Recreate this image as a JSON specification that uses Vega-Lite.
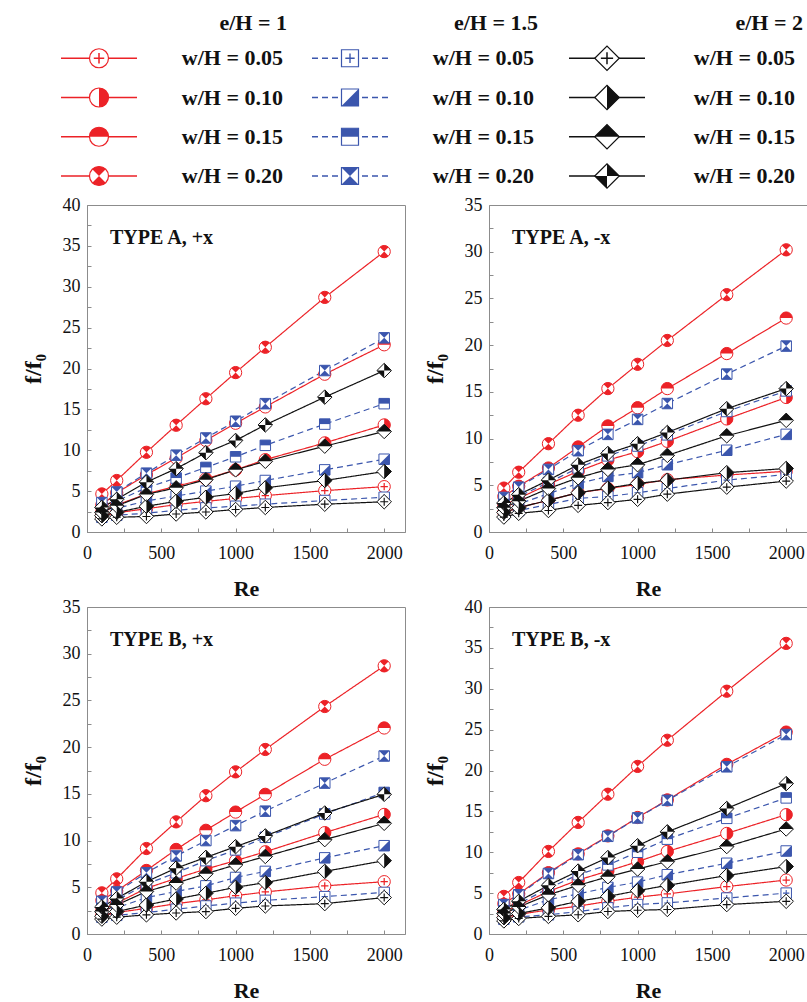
{
"$schema": "https://vega.github.io/schema/vega-lite/v6.json",
"background": "white",
"padding": {"left": 20, "top": 0, "right": 0, "bottom": 0},
"columns": 2,
"spacing": {"row": 75, "column": 84},
"bounds": "flush",
"datasets": {
"leg": [
{"e":1,"w":0.05,"label":"w/H = 0.05","group":"e/H = 1"},{"e":1,"w":0.1,"label":"w/H = 0.10","group":"e/H = 1"},{"e":1,"w":0.15,"label":"w/H = 0.15","group":"e/H = 1"},{"e":1,"w":0.2,"label":"w/H = 0.20","group":"e/H = 1"},
{"e":1.5,"w":0.05,"label":"w/H = 0.05","group":"e/H = 1.5"},{"e":1.5,"w":0.1,"label":"w/H = 0.10","group":"e/H = 1.5"},{"e":1.5,"w":0.15,"label":"w/H = 0.15","group":"e/H = 1.5"},{"e":1.5,"w":0.2,"label":"w/H = 0.20","group":"e/H = 1.5"},
{"e":2,"w":0.05,"label":"w/H = 0.05","group":"e/H = 2"},{"e":2,"w":0.1,"label":"w/H = 0.10","group":"e/H = 2"},{"e":2,"w":0.15,"label":"w/H = 0.15","group":"e/H = 2"},{"e":2,"w":0.2,"label":"w/H = 0.20","group":"e/H = 2"}
],
"pts": [
{"p":"TYPE A, +x","e":1,"w":0.05,"Re":100,"f":2.0},{"p":"TYPE A, +x","e":1,"w":0.05,"Re":200,"f":2.35},{"p":"TYPE A, +x","e":1,"w":0.05,"Re":400,"f":2.85},{"p":"TYPE A, +x","e":1,"w":0.05,"Re":600,"f":3.35},{"p":"TYPE A, +x","e":1,"w":0.05,"Re":800,"f":3.75},{"p":"TYPE A, +x","e":1,"w":0.05,"Re":1000,"f":4.1},{"p":"TYPE A, +x","e":1,"w":0.05,"Re":1200,"f":4.45},{"p":"TYPE A, +x","e":1,"w":0.05,"Re":1600,"f":5.06},{"p":"TYPE A, +x","e":1,"w":0.05,"Re":2000,"f":5.55},
{"p":"TYPE A, +x","e":1,"w":0.1,"Re":100,"f":2.5},{"p":"TYPE A, +x","e":1,"w":0.1,"Re":200,"f":3.3},{"p":"TYPE A, +x","e":1,"w":0.1,"Re":400,"f":4.65},{"p":"TYPE A, +x","e":1,"w":0.1,"Re":600,"f":5.6},{"p":"TYPE A, +x","e":1,"w":0.1,"Re":800,"f":6.5},{"p":"TYPE A, +x","e":1,"w":0.1,"Re":1000,"f":7.6},{"p":"TYPE A, +x","e":1,"w":0.1,"Re":1200,"f":8.85},{"p":"TYPE A, +x","e":1,"w":0.1,"Re":1600,"f":10.9},{"p":"TYPE A, +x","e":1,"w":0.1,"Re":2000,"f":13.1},
{"p":"TYPE A, +x","e":1,"w":0.15,"Re":100,"f":3.3},{"p":"TYPE A, +x","e":1,"w":0.15,"Re":200,"f":4.8},{"p":"TYPE A, +x","e":1,"w":0.15,"Re":400,"f":7.0},{"p":"TYPE A, +x","e":1,"w":0.15,"Re":600,"f":9.05},{"p":"TYPE A, +x","e":1,"w":0.15,"Re":800,"f":11.2},{"p":"TYPE A, +x","e":1,"w":0.15,"Re":1000,"f":13.3},{"p":"TYPE A, +x","e":1,"w":0.15,"Re":1200,"f":15.3},{"p":"TYPE A, +x","e":1,"w":0.15,"Re":1600,"f":19.3},{"p":"TYPE A, +x","e":1,"w":0.15,"Re":2000,"f":22.9},
{"p":"TYPE A, +x","e":1,"w":0.2,"Re":100,"f":4.65},{"p":"TYPE A, +x","e":1,"w":0.2,"Re":200,"f":6.3},{"p":"TYPE A, +x","e":1,"w":0.2,"Re":400,"f":9.75},{"p":"TYPE A, +x","e":1,"w":0.2,"Re":600,"f":13.06},{"p":"TYPE A, +x","e":1,"w":0.2,"Re":800,"f":16.3},{"p":"TYPE A, +x","e":1,"w":0.2,"Re":1000,"f":19.5},{"p":"TYPE A, +x","e":1,"w":0.2,"Re":1200,"f":22.6},{"p":"TYPE A, +x","e":1,"w":0.2,"Re":1600,"f":28.7},{"p":"TYPE A, +x","e":1,"w":0.2,"Re":2000,"f":34.3},
{"p":"TYPE A, +x","e":1.5,"w":0.05,"Re":100,"f":1.8},{"p":"TYPE A, +x","e":1.5,"w":0.05,"Re":200,"f":2.05},{"p":"TYPE A, +x","e":1.5,"w":0.05,"Re":400,"f":2.3},{"p":"TYPE A, +x","e":1.5,"w":0.05,"Re":600,"f":2.65},{"p":"TYPE A, +x","e":1.5,"w":0.05,"Re":800,"f":2.95},{"p":"TYPE A, +x","e":1.5,"w":0.05,"Re":1000,"f":3.15},{"p":"TYPE A, +x","e":1.5,"w":0.05,"Re":1200,"f":3.4},{"p":"TYPE A, +x","e":1.5,"w":0.05,"Re":1600,"f":3.85},{"p":"TYPE A, +x","e":1.5,"w":0.05,"Re":2000,"f":4.25},
{"p":"TYPE A, +x","e":1.5,"w":0.1,"Re":100,"f":2.2},{"p":"TYPE A, +x","e":1.5,"w":0.1,"Re":200,"f":2.9},{"p":"TYPE A, +x","e":1.5,"w":0.1,"Re":400,"f":3.8},{"p":"TYPE A, +x","e":1.5,"w":0.1,"Re":600,"f":4.4},{"p":"TYPE A, +x","e":1.5,"w":0.1,"Re":800,"f":5.0},{"p":"TYPE A, +x","e":1.5,"w":0.1,"Re":1000,"f":5.6},{"p":"TYPE A, +x","e":1.5,"w":0.1,"Re":1200,"f":6.3},{"p":"TYPE A, +x","e":1.5,"w":0.1,"Re":1600,"f":7.6},{"p":"TYPE A, +x","e":1.5,"w":0.1,"Re":2000,"f":8.9},
{"p":"TYPE A, +x","e":1.5,"w":0.15,"Re":100,"f":2.8},{"p":"TYPE A, +x","e":1.5,"w":0.15,"Re":200,"f":3.8},{"p":"TYPE A, +x","e":1.5,"w":0.15,"Re":400,"f":5.4},{"p":"TYPE A, +x","e":1.5,"w":0.15,"Re":600,"f":6.6},{"p":"TYPE A, +x","e":1.5,"w":0.15,"Re":800,"f":7.9},{"p":"TYPE A, +x","e":1.5,"w":0.15,"Re":1000,"f":9.2},{"p":"TYPE A, +x","e":1.5,"w":0.15,"Re":1200,"f":10.6},{"p":"TYPE A, +x","e":1.5,"w":0.15,"Re":1600,"f":13.2},{"p":"TYPE A, +x","e":1.5,"w":0.15,"Re":2000,"f":15.7},
{"p":"TYPE A, +x","e":1.5,"w":0.2,"Re":100,"f":3.6},{"p":"TYPE A, +x","e":1.5,"w":0.2,"Re":200,"f":4.9},{"p":"TYPE A, +x","e":1.5,"w":0.2,"Re":400,"f":7.2},{"p":"TYPE A, +x","e":1.5,"w":0.2,"Re":600,"f":9.4},{"p":"TYPE A, +x","e":1.5,"w":0.2,"Re":800,"f":11.5},{"p":"TYPE A, +x","e":1.5,"w":0.2,"Re":1000,"f":13.55},{"p":"TYPE A, +x","e":1.5,"w":0.2,"Re":1200,"f":15.7},{"p":"TYPE A, +x","e":1.5,"w":0.2,"Re":1600,"f":19.75},{"p":"TYPE A, +x","e":1.5,"w":0.2,"Re":2000,"f":23.75},
{"p":"TYPE A, +x","e":2,"w":0.05,"Re":100,"f":1.6},{"p":"TYPE A, +x","e":2,"w":0.05,"Re":200,"f":1.8},{"p":"TYPE A, +x","e":2,"w":0.05,"Re":400,"f":1.9},{"p":"TYPE A, +x","e":2,"w":0.05,"Re":600,"f":2.2},{"p":"TYPE A, +x","e":2,"w":0.05,"Re":800,"f":2.45},{"p":"TYPE A, +x","e":2,"w":0.05,"Re":1000,"f":2.75},{"p":"TYPE A, +x","e":2,"w":0.05,"Re":1200,"f":3.0},{"p":"TYPE A, +x","e":2,"w":0.05,"Re":1600,"f":3.4},{"p":"TYPE A, +x","e":2,"w":0.05,"Re":2000,"f":3.7},
{"p":"TYPE A, +x","e":2,"w":0.1,"Re":100,"f":2.0},{"p":"TYPE A, +x","e":2,"w":0.1,"Re":200,"f":2.4},{"p":"TYPE A, +x","e":2,"w":0.1,"Re":400,"f":3.15},{"p":"TYPE A, +x","e":2,"w":0.1,"Re":600,"f":3.75},{"p":"TYPE A, +x","e":2,"w":0.1,"Re":800,"f":4.25},{"p":"TYPE A, +x","e":2,"w":0.1,"Re":1000,"f":4.7},{"p":"TYPE A, +x","e":2,"w":0.1,"Re":1200,"f":5.4},{"p":"TYPE A, +x","e":2,"w":0.1,"Re":1600,"f":6.3},{"p":"TYPE A, +x","e":2,"w":0.1,"Re":2000,"f":7.4},
{"p":"TYPE A, +x","e":2,"w":0.15,"Re":100,"f":2.4},{"p":"TYPE A, +x","e":2,"w":0.15,"Re":200,"f":3.2},{"p":"TYPE A, +x","e":2,"w":0.15,"Re":400,"f":4.6},{"p":"TYPE A, +x","e":2,"w":0.15,"Re":600,"f":5.4},{"p":"TYPE A, +x","e":2,"w":0.15,"Re":800,"f":6.4},{"p":"TYPE A, +x","e":2,"w":0.15,"Re":1000,"f":7.6},{"p":"TYPE A, +x","e":2,"w":0.15,"Re":1200,"f":8.65},{"p":"TYPE A, +x","e":2,"w":0.15,"Re":1600,"f":10.5},{"p":"TYPE A, +x","e":2,"w":0.15,"Re":2000,"f":12.3},
{"p":"TYPE A, +x","e":2,"w":0.2,"Re":100,"f":3.0},{"p":"TYPE A, +x","e":2,"w":0.2,"Re":200,"f":4.0},{"p":"TYPE A, +x","e":2,"w":0.2,"Re":400,"f":6.1},{"p":"TYPE A, +x","e":2,"w":0.2,"Re":600,"f":7.75},{"p":"TYPE A, +x","e":2,"w":0.2,"Re":800,"f":9.7},{"p":"TYPE A, +x","e":2,"w":0.2,"Re":1000,"f":11.2},{"p":"TYPE A, +x","e":2,"w":0.2,"Re":1200,"f":13.1},{"p":"TYPE A, +x","e":2,"w":0.2,"Re":1600,"f":16.5},{"p":"TYPE A, +x","e":2,"w":0.2,"Re":2000,"f":19.75},

{"p":"TYPE A, -x","e":1,"w":0.05,"Re":100,"f":2.1},{"p":"TYPE A, -x","e":1,"w":0.05,"Re":200,"f":2.6},{"p":"TYPE A, -x","e":1,"w":0.05,"Re":400,"f":3.4},{"p":"TYPE A, -x","e":1,"w":0.05,"Re":600,"f":4.2},{"p":"TYPE A, -x","e":1,"w":0.05,"Re":800,"f":4.65},{"p":"TYPE A, -x","e":1,"w":0.05,"Re":1000,"f":5.1},{"p":"TYPE A, -x","e":1,"w":0.05,"Re":1200,"f":5.6},{"p":"TYPE A, -x","e":1,"w":0.05,"Re":1600,"f":6.1},{"p":"TYPE A, -x","e":1,"w":0.05,"Re":2000,"f":6.5},
{"p":"TYPE A, -x","e":1,"w":0.1,"Re":100,"f":2.9},{"p":"TYPE A, -x","e":1,"w":0.1,"Re":200,"f":3.6},{"p":"TYPE A, -x","e":1,"w":0.1,"Re":400,"f":5.1},{"p":"TYPE A, -x","e":1,"w":0.1,"Re":600,"f":6.5},{"p":"TYPE A, -x","e":1,"w":0.1,"Re":800,"f":7.7},{"p":"TYPE A, -x","e":1,"w":0.1,"Re":1000,"f":8.6},{"p":"TYPE A, -x","e":1,"w":0.1,"Re":1200,"f":9.7},{"p":"TYPE A, -x","e":1,"w":0.1,"Re":1600,"f":12.1},{"p":"TYPE A, -x","e":1,"w":0.1,"Re":2000,"f":14.4},
{"p":"TYPE A, -x","e":1,"w":0.15,"Re":100,"f":3.8},{"p":"TYPE A, -x","e":1,"w":0.15,"Re":200,"f":4.9},{"p":"TYPE A, -x","e":1,"w":0.15,"Re":400,"f":6.85},{"p":"TYPE A, -x","e":1,"w":0.15,"Re":600,"f":9.1},{"p":"TYPE A, -x","e":1,"w":0.15,"Re":800,"f":11.35},{"p":"TYPE A, -x","e":1,"w":0.15,"Re":1000,"f":13.3},{"p":"TYPE A, -x","e":1,"w":0.15,"Re":1200,"f":15.35},{"p":"TYPE A, -x","e":1,"w":0.15,"Re":1600,"f":19.1},{"p":"TYPE A, -x","e":1,"w":0.15,"Re":2000,"f":22.9},
{"p":"TYPE A, -x","e":1,"w":0.2,"Re":100,"f":4.7},{"p":"TYPE A, -x","e":1,"w":0.2,"Re":200,"f":6.4},{"p":"TYPE A, -x","e":1,"w":0.2,"Re":400,"f":9.45},{"p":"TYPE A, -x","e":1,"w":0.2,"Re":600,"f":12.5},{"p":"TYPE A, -x","e":1,"w":0.2,"Re":800,"f":15.35},{"p":"TYPE A, -x","e":1,"w":0.2,"Re":1000,"f":17.95},{"p":"TYPE A, -x","e":1,"w":0.2,"Re":1200,"f":20.5},{"p":"TYPE A, -x","e":1,"w":0.2,"Re":1600,"f":25.4},{"p":"TYPE A, -x","e":1,"w":0.2,"Re":2000,"f":30.2},
{"p":"TYPE A, -x","e":1.5,"w":0.05,"Re":100,"f":1.9},{"p":"TYPE A, -x","e":1.5,"w":0.05,"Re":200,"f":2.3},{"p":"TYPE A, -x","e":1.5,"w":0.05,"Re":400,"f":2.95},{"p":"TYPE A, -x","e":1.5,"w":0.05,"Re":600,"f":3.6},{"p":"TYPE A, -x","e":1.5,"w":0.05,"Re":800,"f":3.8},{"p":"TYPE A, -x","e":1.5,"w":0.05,"Re":1000,"f":4.2},{"p":"TYPE A, -x","e":1.5,"w":0.05,"Re":1200,"f":4.65},{"p":"TYPE A, -x","e":1.5,"w":0.05,"Re":1600,"f":5.55},{"p":"TYPE A, -x","e":1.5,"w":0.05,"Re":2000,"f":6.15},
{"p":"TYPE A, -x","e":1.5,"w":0.1,"Re":100,"f":2.4},{"p":"TYPE A, -x","e":1.5,"w":0.1,"Re":200,"f":3.0},{"p":"TYPE A, -x","e":1.5,"w":0.1,"Re":400,"f":4.1},{"p":"TYPE A, -x","e":1.5,"w":0.1,"Re":600,"f":5.2},{"p":"TYPE A, -x","e":1.5,"w":0.1,"Re":800,"f":5.95},{"p":"TYPE A, -x","e":1.5,"w":0.1,"Re":1000,"f":6.35},{"p":"TYPE A, -x","e":1.5,"w":0.1,"Re":1200,"f":7.2},{"p":"TYPE A, -x","e":1.5,"w":0.1,"Re":1600,"f":8.75},{"p":"TYPE A, -x","e":1.5,"w":0.1,"Re":2000,"f":10.45},
{"p":"TYPE A, -x","e":1.5,"w":0.15,"Re":100,"f":3.0},{"p":"TYPE A, -x","e":1.5,"w":0.15,"Re":200,"f":3.8},{"p":"TYPE A, -x","e":1.5,"w":0.15,"Re":400,"f":5.3},{"p":"TYPE A, -x","e":1.5,"w":0.15,"Re":600,"f":6.85},{"p":"TYPE A, -x","e":1.5,"w":0.15,"Re":800,"f":8.15},{"p":"TYPE A, -x","e":1.5,"w":0.15,"Re":1000,"f":9.2},{"p":"TYPE A, -x","e":1.5,"w":0.15,"Re":1200,"f":10.4},{"p":"TYPE A, -x","e":1.5,"w":0.15,"Re":1600,"f":12.9},{"p":"TYPE A, -x","e":1.5,"w":0.15,"Re":2000,"f":15.1},
{"p":"TYPE A, -x","e":1.5,"w":0.2,"Re":100,"f":3.7},{"p":"TYPE A, -x","e":1.5,"w":0.2,"Re":200,"f":4.8},{"p":"TYPE A, -x","e":1.5,"w":0.2,"Re":400,"f":6.7},{"p":"TYPE A, -x","e":1.5,"w":0.2,"Re":600,"f":8.7},{"p":"TYPE A, -x","e":1.5,"w":0.2,"Re":800,"f":10.45},{"p":"TYPE A, -x","e":1.5,"w":0.2,"Re":1000,"f":12.05},{"p":"TYPE A, -x","e":1.5,"w":0.2,"Re":1200,"f":13.75},{"p":"TYPE A, -x","e":1.5,"w":0.2,"Re":1600,"f":16.9},{"p":"TYPE A, -x","e":1.5,"w":0.2,"Re":2000,"f":19.9},
{"p":"TYPE A, -x","e":2,"w":0.05,"Re":100,"f":1.6},{"p":"TYPE A, -x","e":2,"w":0.05,"Re":200,"f":2.0},{"p":"TYPE A, -x","e":2,"w":0.05,"Re":400,"f":2.3},{"p":"TYPE A, -x","e":2,"w":0.05,"Re":600,"f":2.85},{"p":"TYPE A, -x","e":2,"w":0.05,"Re":800,"f":3.15},{"p":"TYPE A, -x","e":2,"w":0.05,"Re":1000,"f":3.5},{"p":"TYPE A, -x","e":2,"w":0.05,"Re":1200,"f":4.05},{"p":"TYPE A, -x","e":2,"w":0.05,"Re":1600,"f":4.8},{"p":"TYPE A, -x","e":2,"w":0.05,"Re":2000,"f":5.45},
{"p":"TYPE A, -x","e":2,"w":0.1,"Re":100,"f":2.1},{"p":"TYPE A, -x","e":2,"w":0.1,"Re":200,"f":2.6},{"p":"TYPE A, -x","e":2,"w":0.1,"Re":400,"f":3.4},{"p":"TYPE A, -x","e":2,"w":0.1,"Re":600,"f":4.2},{"p":"TYPE A, -x","e":2,"w":0.1,"Re":800,"f":4.7},{"p":"TYPE A, -x","e":2,"w":0.1,"Re":1000,"f":5.2},{"p":"TYPE A, -x","e":2,"w":0.1,"Re":1200,"f":5.55},{"p":"TYPE A, -x","e":2,"w":0.1,"Re":1600,"f":6.35},{"p":"TYPE A, -x","e":2,"w":0.1,"Re":2000,"f":6.8},
{"p":"TYPE A, -x","e":2,"w":0.15,"Re":100,"f":2.6},{"p":"TYPE A, -x","e":2,"w":0.15,"Re":200,"f":3.3},{"p":"TYPE A, -x","e":2,"w":0.15,"Re":400,"f":4.65},{"p":"TYPE A, -x","e":2,"w":0.15,"Re":600,"f":5.8},{"p":"TYPE A, -x","e":2,"w":0.15,"Re":800,"f":6.7},{"p":"TYPE A, -x","e":2,"w":0.15,"Re":1000,"f":7.2},{"p":"TYPE A, -x","e":2,"w":0.15,"Re":1200,"f":8.2},{"p":"TYPE A, -x","e":2,"w":0.15,"Re":1600,"f":10.3},{"p":"TYPE A, -x","e":2,"w":0.15,"Re":2000,"f":11.95},
{"p":"TYPE A, -x","e":2,"w":0.2,"Re":100,"f":3.1},{"p":"TYPE A, -x","e":2,"w":0.2,"Re":200,"f":4.0},{"p":"TYPE A, -x","e":2,"w":0.2,"Re":400,"f":5.55},{"p":"TYPE A, -x","e":2,"w":0.2,"Re":600,"f":7.2},{"p":"TYPE A, -x","e":2,"w":0.2,"Re":800,"f":8.4},{"p":"TYPE A, -x","e":2,"w":0.2,"Re":1000,"f":9.45},{"p":"TYPE A, -x","e":2,"w":0.2,"Re":1200,"f":10.65},{"p":"TYPE A, -x","e":2,"w":0.2,"Re":1600,"f":13.2},{"p":"TYPE A, -x","e":2,"w":0.2,"Re":2000,"f":15.35},

{"p":"TYPE B, +x","e":1,"w":0.05,"Re":100,"f":2.0},{"p":"TYPE B, +x","e":1,"w":0.05,"Re":200,"f":2.3},{"p":"TYPE B, +x","e":1,"w":0.05,"Re":400,"f":2.75},{"p":"TYPE B, +x","e":1,"w":0.05,"Re":600,"f":3.25},{"p":"TYPE B, +x","e":1,"w":0.05,"Re":800,"f":3.65},{"p":"TYPE B, +x","e":1,"w":0.05,"Re":1000,"f":4.1},{"p":"TYPE B, +x","e":1,"w":0.05,"Re":1200,"f":4.5},{"p":"TYPE B, +x","e":1,"w":0.05,"Re":1600,"f":5.15},{"p":"TYPE B, +x","e":1,"w":0.05,"Re":2000,"f":5.6},
{"p":"TYPE B, +x","e":1,"w":0.1,"Re":100,"f":2.6},{"p":"TYPE B, +x","e":1,"w":0.1,"Re":200,"f":3.3},{"p":"TYPE B, +x","e":1,"w":0.1,"Re":400,"f":4.9},{"p":"TYPE B, +x","e":1,"w":0.1,"Re":600,"f":5.95},{"p":"TYPE B, +x","e":1,"w":0.1,"Re":800,"f":6.95},{"p":"TYPE B, +x","e":1,"w":0.1,"Re":1000,"f":7.85},{"p":"TYPE B, +x","e":1,"w":0.1,"Re":1200,"f":8.8},{"p":"TYPE B, +x","e":1,"w":0.1,"Re":1600,"f":10.85},{"p":"TYPE B, +x","e":1,"w":0.1,"Re":2000,"f":12.8},
{"p":"TYPE B, +x","e":1,"w":0.15,"Re":100,"f":3.6},{"p":"TYPE B, +x","e":1,"w":0.15,"Re":200,"f":4.6},{"p":"TYPE B, +x","e":1,"w":0.15,"Re":400,"f":6.8},{"p":"TYPE B, +x","e":1,"w":0.15,"Re":600,"f":9.05},{"p":"TYPE B, +x","e":1,"w":0.15,"Re":800,"f":11.1},{"p":"TYPE B, +x","e":1,"w":0.15,"Re":1000,"f":13.05},{"p":"TYPE B, +x","e":1,"w":0.15,"Re":1200,"f":14.95},{"p":"TYPE B, +x","e":1,"w":0.15,"Re":1600,"f":18.7},{"p":"TYPE B, +x","e":1,"w":0.15,"Re":2000,"f":22.05},
{"p":"TYPE B, +x","e":1,"w":0.2,"Re":100,"f":4.4},{"p":"TYPE B, +x","e":1,"w":0.2,"Re":200,"f":5.9},{"p":"TYPE B, +x","e":1,"w":0.2,"Re":400,"f":9.15},{"p":"TYPE B, +x","e":1,"w":0.2,"Re":600,"f":12.0},{"p":"TYPE B, +x","e":1,"w":0.2,"Re":800,"f":14.8},{"p":"TYPE B, +x","e":1,"w":0.2,"Re":1000,"f":17.35},{"p":"TYPE B, +x","e":1,"w":0.2,"Re":1200,"f":19.75},{"p":"TYPE B, +x","e":1,"w":0.2,"Re":1600,"f":24.35},{"p":"TYPE B, +x","e":1,"w":0.2,"Re":2000,"f":28.7},
{"p":"TYPE B, +x","e":1.5,"w":0.05,"Re":100,"f":1.8},{"p":"TYPE B, +x","e":1.5,"w":0.05,"Re":200,"f":2.0},{"p":"TYPE B, +x","e":1.5,"w":0.05,"Re":400,"f":2.3},{"p":"TYPE B, +x","e":1.5,"w":0.05,"Re":600,"f":2.65},{"p":"TYPE B, +x","e":1.5,"w":0.05,"Re":800,"f":3.0},{"p":"TYPE B, +x","e":1.5,"w":0.05,"Re":1000,"f":3.3},{"p":"TYPE B, +x","e":1.5,"w":0.05,"Re":1200,"f":3.6},{"p":"TYPE B, +x","e":1.5,"w":0.05,"Re":1600,"f":4.0},{"p":"TYPE B, +x","e":1.5,"w":0.05,"Re":2000,"f":4.45},
{"p":"TYPE B, +x","e":1.5,"w":0.1,"Re":100,"f":2.2},{"p":"TYPE B, +x","e":1.5,"w":0.1,"Re":200,"f":2.8},{"p":"TYPE B, +x","e":1.5,"w":0.1,"Re":400,"f":3.9},{"p":"TYPE B, +x","e":1.5,"w":0.1,"Re":600,"f":4.55},{"p":"TYPE B, +x","e":1.5,"w":0.1,"Re":800,"f":5.15},{"p":"TYPE B, +x","e":1.5,"w":0.1,"Re":1000,"f":6.05},{"p":"TYPE B, +x","e":1.5,"w":0.1,"Re":1200,"f":6.7},{"p":"TYPE B, +x","e":1.5,"w":0.1,"Re":1600,"f":8.15},{"p":"TYPE B, +x","e":1.5,"w":0.1,"Re":2000,"f":9.45},
{"p":"TYPE B, +x","e":1.5,"w":0.15,"Re":100,"f":2.8},{"p":"TYPE B, +x","e":1.5,"w":0.15,"Re":200,"f":3.6},{"p":"TYPE B, +x","e":1.5,"w":0.15,"Re":400,"f":5.35},{"p":"TYPE B, +x","e":1.5,"w":0.15,"Re":600,"f":6.55},{"p":"TYPE B, +x","e":1.5,"w":0.15,"Re":800,"f":7.85},{"p":"TYPE B, +x","e":1.5,"w":0.15,"Re":1000,"f":9.0},{"p":"TYPE B, +x","e":1.5,"w":0.15,"Re":1200,"f":10.35},{"p":"TYPE B, +x","e":1.5,"w":0.15,"Re":1600,"f":12.85},{"p":"TYPE B, +x","e":1.5,"w":0.15,"Re":2000,"f":15.15},
{"p":"TYPE B, +x","e":1.5,"w":0.2,"Re":100,"f":3.5},{"p":"TYPE B, +x","e":1.5,"w":0.2,"Re":200,"f":4.5},{"p":"TYPE B, +x","e":1.5,"w":0.2,"Re":400,"f":6.55},{"p":"TYPE B, +x","e":1.5,"w":0.2,"Re":600,"f":8.35},{"p":"TYPE B, +x","e":1.5,"w":0.2,"Re":800,"f":10.0},{"p":"TYPE B, +x","e":1.5,"w":0.2,"Re":1000,"f":11.6},{"p":"TYPE B, +x","e":1.5,"w":0.2,"Re":1200,"f":13.15},{"p":"TYPE B, +x","e":1.5,"w":0.2,"Re":1600,"f":16.15},{"p":"TYPE B, +x","e":1.5,"w":0.2,"Re":2000,"f":19.05},
{"p":"TYPE B, +x","e":2,"w":0.05,"Re":100,"f":1.6},{"p":"TYPE B, +x","e":2,"w":0.05,"Re":200,"f":1.8},{"p":"TYPE B, +x","e":2,"w":0.05,"Re":400,"f":2.05},{"p":"TYPE B, +x","e":2,"w":0.05,"Re":600,"f":2.25},{"p":"TYPE B, +x","e":2,"w":0.05,"Re":800,"f":2.4},{"p":"TYPE B, +x","e":2,"w":0.05,"Re":1000,"f":2.75},{"p":"TYPE B, +x","e":2,"w":0.05,"Re":1200,"f":3.0},{"p":"TYPE B, +x","e":2,"w":0.05,"Re":1600,"f":3.25},{"p":"TYPE B, +x","e":2,"w":0.05,"Re":2000,"f":3.9},
{"p":"TYPE B, +x","e":2,"w":0.1,"Re":100,"f":1.9},{"p":"TYPE B, +x","e":2,"w":0.1,"Re":200,"f":2.4},{"p":"TYPE B, +x","e":2,"w":0.1,"Re":400,"f":3.1},{"p":"TYPE B, +x","e":2,"w":0.1,"Re":600,"f":3.75},{"p":"TYPE B, +x","e":2,"w":0.1,"Re":800,"f":4.35},{"p":"TYPE B, +x","e":2,"w":0.1,"Re":1000,"f":5.0},{"p":"TYPE B, +x","e":2,"w":0.1,"Re":1200,"f":5.5},{"p":"TYPE B, +x","e":2,"w":0.1,"Re":1600,"f":6.7},{"p":"TYPE B, +x","e":2,"w":0.1,"Re":2000,"f":7.85},
{"p":"TYPE B, +x","e":2,"w":0.15,"Re":100,"f":2.4},{"p":"TYPE B, +x","e":2,"w":0.15,"Re":200,"f":3.1},{"p":"TYPE B, +x","e":2,"w":0.15,"Re":400,"f":4.55},{"p":"TYPE B, +x","e":2,"w":0.15,"Re":600,"f":5.45},{"p":"TYPE B, +x","e":2,"w":0.15,"Re":800,"f":6.45},{"p":"TYPE B, +x","e":2,"w":0.15,"Re":1000,"f":7.4},{"p":"TYPE B, +x","e":2,"w":0.15,"Re":1200,"f":8.3},{"p":"TYPE B, +x","e":2,"w":0.15,"Re":1600,"f":10.1},{"p":"TYPE B, +x","e":2,"w":0.15,"Re":2000,"f":11.85},
{"p":"TYPE B, +x","e":2,"w":0.2,"Re":100,"f":2.9},{"p":"TYPE B, +x","e":2,"w":0.2,"Re":200,"f":3.8},{"p":"TYPE B, +x","e":2,"w":0.2,"Re":400,"f":5.6},{"p":"TYPE B, +x","e":2,"w":0.2,"Re":600,"f":7.05},{"p":"TYPE B, +x","e":2,"w":0.2,"Re":800,"f":8.2},{"p":"TYPE B, +x","e":2,"w":0.2,"Re":1000,"f":9.35},{"p":"TYPE B, +x","e":2,"w":0.2,"Re":1200,"f":10.5},{"p":"TYPE B, +x","e":2,"w":0.2,"Re":1600,"f":12.95},{"p":"TYPE B, +x","e":2,"w":0.2,"Re":2000,"f":14.95},

{"p":"TYPE B, -x","e":1,"w":0.05,"Re":100,"f":2.0},{"p":"TYPE B, -x","e":1,"w":0.05,"Re":200,"f":2.4},{"p":"TYPE B, -x","e":1,"w":0.05,"Re":400,"f":2.95},{"p":"TYPE B, -x","e":1,"w":0.05,"Re":600,"f":3.4},{"p":"TYPE B, -x","e":1,"w":0.05,"Re":800,"f":4.0},{"p":"TYPE B, -x","e":1,"w":0.05,"Re":1000,"f":4.5},{"p":"TYPE B, -x","e":1,"w":0.05,"Re":1200,"f":4.9},{"p":"TYPE B, -x","e":1,"w":0.05,"Re":1600,"f":5.8},{"p":"TYPE B, -x","e":1,"w":0.05,"Re":2000,"f":6.6},
{"p":"TYPE B, -x","e":1,"w":0.1,"Re":100,"f":2.7},{"p":"TYPE B, -x","e":1,"w":0.1,"Re":200,"f":3.5},{"p":"TYPE B, -x","e":1,"w":0.1,"Re":400,"f":5.2},{"p":"TYPE B, -x","e":1,"w":0.1,"Re":600,"f":6.6},{"p":"TYPE B, -x","e":1,"w":0.1,"Re":800,"f":7.7},{"p":"TYPE B, -x","e":1,"w":0.1,"Re":1000,"f":8.85},{"p":"TYPE B, -x","e":1,"w":0.1,"Re":1200,"f":10.1},{"p":"TYPE B, -x","e":1,"w":0.1,"Re":1600,"f":12.3},{"p":"TYPE B, -x","e":1,"w":0.1,"Re":2000,"f":14.6},
{"p":"TYPE B, -x","e":1,"w":0.15,"Re":100,"f":3.7},{"p":"TYPE B, -x","e":1,"w":0.15,"Re":200,"f":4.9},{"p":"TYPE B, -x","e":1,"w":0.15,"Re":400,"f":7.5},{"p":"TYPE B, -x","e":1,"w":0.15,"Re":600,"f":9.8},{"p":"TYPE B, -x","e":1,"w":0.15,"Re":800,"f":12.0},{"p":"TYPE B, -x","e":1,"w":0.15,"Re":1000,"f":14.25},{"p":"TYPE B, -x","e":1,"w":0.15,"Re":1200,"f":16.4},{"p":"TYPE B, -x","e":1,"w":0.15,"Re":1600,"f":20.75},{"p":"TYPE B, -x","e":1,"w":0.15,"Re":2000,"f":24.7},
{"p":"TYPE B, -x","e":1,"w":0.2,"Re":100,"f":4.6},{"p":"TYPE B, -x","e":1,"w":0.2,"Re":200,"f":6.3},{"p":"TYPE B, -x","e":1,"w":0.2,"Re":400,"f":10.1},{"p":"TYPE B, -x","e":1,"w":0.2,"Re":600,"f":13.65},{"p":"TYPE B, -x","e":1,"w":0.2,"Re":800,"f":17.1},{"p":"TYPE B, -x","e":1,"w":0.2,"Re":1000,"f":20.5},{"p":"TYPE B, -x","e":1,"w":0.2,"Re":1200,"f":23.7},{"p":"TYPE B, -x","e":1,"w":0.2,"Re":1600,"f":29.7},{"p":"TYPE B, -x","e":1,"w":0.2,"Re":2000,"f":35.55},
{"p":"TYPE B, -x","e":1.5,"w":0.05,"Re":100,"f":1.8},{"p":"TYPE B, -x","e":1.5,"w":0.05,"Re":200,"f":2.1},{"p":"TYPE B, -x","e":1.5,"w":0.05,"Re":400,"f":2.35},{"p":"TYPE B, -x","e":1.5,"w":0.05,"Re":600,"f":2.75},{"p":"TYPE B, -x","e":1.5,"w":0.05,"Re":800,"f":3.2},{"p":"TYPE B, -x","e":1.5,"w":0.05,"Re":1000,"f":3.6},{"p":"TYPE B, -x","e":1.5,"w":0.05,"Re":1200,"f":3.8},{"p":"TYPE B, -x","e":1.5,"w":0.05,"Re":1600,"f":4.4},{"p":"TYPE B, -x","e":1.5,"w":0.05,"Re":2000,"f":5.0},
{"p":"TYPE B, -x","e":1.5,"w":0.1,"Re":100,"f":2.3},{"p":"TYPE B, -x","e":1.5,"w":0.1,"Re":200,"f":2.9},{"p":"TYPE B, -x","e":1.5,"w":0.1,"Re":400,"f":4.2},{"p":"TYPE B, -x","e":1.5,"w":0.1,"Re":600,"f":4.9},{"p":"TYPE B, -x","e":1.5,"w":0.1,"Re":800,"f":5.7},{"p":"TYPE B, -x","e":1.5,"w":0.1,"Re":1000,"f":6.35},{"p":"TYPE B, -x","e":1.5,"w":0.1,"Re":1200,"f":7.25},{"p":"TYPE B, -x","e":1.5,"w":0.1,"Re":1600,"f":8.65},{"p":"TYPE B, -x","e":1.5,"w":0.1,"Re":2000,"f":10.15},
{"p":"TYPE B, -x","e":1.5,"w":0.15,"Re":100,"f":2.9},{"p":"TYPE B, -x","e":1.5,"w":0.15,"Re":200,"f":3.7},{"p":"TYPE B, -x","e":1.5,"w":0.15,"Re":400,"f":5.6},{"p":"TYPE B, -x","e":1.5,"w":0.15,"Re":600,"f":7.25},{"p":"TYPE B, -x","e":1.5,"w":0.15,"Re":800,"f":8.45},{"p":"TYPE B, -x","e":1.5,"w":0.15,"Re":1000,"f":10.0},{"p":"TYPE B, -x","e":1.5,"w":0.15,"Re":1200,"f":11.6},{"p":"TYPE B, -x","e":1.5,"w":0.15,"Re":1600,"f":14.15},{"p":"TYPE B, -x","e":1.5,"w":0.15,"Re":2000,"f":16.65},
{"p":"TYPE B, -x","e":1.5,"w":0.2,"Re":100,"f":3.6},{"p":"TYPE B, -x","e":1.5,"w":0.2,"Re":200,"f":4.8},{"p":"TYPE B, -x","e":1.5,"w":0.2,"Re":400,"f":7.4},{"p":"TYPE B, -x","e":1.5,"w":0.2,"Re":600,"f":9.7},{"p":"TYPE B, -x","e":1.5,"w":0.2,"Re":800,"f":11.95},{"p":"TYPE B, -x","e":1.5,"w":0.2,"Re":1000,"f":14.2},{"p":"TYPE B, -x","e":1.5,"w":0.2,"Re":1200,"f":16.35},{"p":"TYPE B, -x","e":1.5,"w":0.2,"Re":1600,"f":20.45},{"p":"TYPE B, -x","e":1.5,"w":0.2,"Re":2000,"f":24.4},
{"p":"TYPE B, -x","e":2,"w":0.05,"Re":100,"f":1.6},{"p":"TYPE B, -x","e":2,"w":0.05,"Re":200,"f":1.9},{"p":"TYPE B, -x","e":2,"w":0.05,"Re":400,"f":2.15},{"p":"TYPE B, -x","e":2,"w":0.05,"Re":600,"f":2.35},{"p":"TYPE B, -x","e":2,"w":0.05,"Re":800,"f":2.75},{"p":"TYPE B, -x","e":2,"w":0.05,"Re":1000,"f":2.9},{"p":"TYPE B, -x","e":2,"w":0.05,"Re":1200,"f":3.0},{"p":"TYPE B, -x","e":2,"w":0.05,"Re":1600,"f":3.6},{"p":"TYPE B, -x","e":2,"w":0.05,"Re":2000,"f":4.0},
{"p":"TYPE B, -x","e":2,"w":0.1,"Re":100,"f":2.0},{"p":"TYPE B, -x","e":2,"w":0.1,"Re":200,"f":2.5},{"p":"TYPE B, -x","e":2,"w":0.1,"Re":400,"f":3.2},{"p":"TYPE B, -x","e":2,"w":0.1,"Re":600,"f":4.0},{"p":"TYPE B, -x","e":2,"w":0.1,"Re":800,"f":4.6},{"p":"TYPE B, -x","e":2,"w":0.1,"Re":1000,"f":5.3},{"p":"TYPE B, -x","e":2,"w":0.1,"Re":1200,"f":5.95},{"p":"TYPE B, -x","e":2,"w":0.1,"Re":1600,"f":7.15},{"p":"TYPE B, -x","e":2,"w":0.1,"Re":2000,"f":8.25},
{"p":"TYPE B, -x","e":2,"w":0.15,"Re":100,"f":2.5},{"p":"TYPE B, -x","e":2,"w":0.15,"Re":200,"f":3.3},{"p":"TYPE B, -x","e":2,"w":0.15,"Re":400,"f":4.8},{"p":"TYPE B, -x","e":2,"w":0.15,"Re":600,"f":5.95},{"p":"TYPE B, -x","e":2,"w":0.15,"Re":800,"f":7.0},{"p":"TYPE B, -x","e":2,"w":0.15,"Re":1000,"f":7.95},{"p":"TYPE B, -x","e":2,"w":0.15,"Re":1200,"f":8.85},{"p":"TYPE B, -x","e":2,"w":0.15,"Re":1600,"f":10.7},{"p":"TYPE B, -x","e":2,"w":0.15,"Re":2000,"f":12.85},
{"p":"TYPE B, -x","e":2,"w":0.2,"Re":100,"f":3.0},{"p":"TYPE B, -x","e":2,"w":0.2,"Re":200,"f":4.0},{"p":"TYPE B, -x","e":2,"w":0.2,"Re":400,"f":5.95},{"p":"TYPE B, -x","e":2,"w":0.2,"Re":600,"f":7.7},{"p":"TYPE B, -x","e":2,"w":0.2,"Re":800,"f":9.35},{"p":"TYPE B, -x","e":2,"w":0.2,"Re":1000,"f":10.8},{"p":"TYPE B, -x","e":2,"w":0.2,"Re":1200,"f":12.5},{"p":"TYPE B, -x","e":2,"w":0.2,"Re":1600,"f":15.35},{"p":"TYPE B, -x","e":2,"w":0.2,"Re":2000,"f":18.4}
]
},
"concat": [
{
"width": 318, "height": 130,
"view": {"stroke": null},
"data": {"name": "leg"},
"transform": [{"filter": "datum.e < 2"}],
"encoding": {
"x": {"field": "e", "type": "quantitative", "scale": {"domain": [1, 1.5], "range": [12, 263]}, "axis": null},
"y": {"field": "w", "type": "quantitative", "scale": {"domain": [0, 0.2], "range": [19, 176]}, "axis": null}
},
"resolve": {"scale": {"shape": "independent"}},
"layer": [
{"mark": {"type": "rule", "strokeWidth": 1.5, "xOffset": -38, "x2Offset": 38}, "encoding": {"x2": {"field": "e"}, "color": {"field": "e", "type": "nominal", "scale": {"domain": [1, 1.5, 2], "range": ["#ec2227", "#3b56ad", "#111111"]}, "legend": null}, "strokeDash": {"field": "e", "type": "nominal", "scale": {"domain": [1, 1.5, 2], "range": [[1, 0], [6, 4], [1, 0]]}, "legend": null}}},
{"transform": [{"filter": "datum.e === 1"}], "mark": {"type": "point", "shape": "circle", "size": 361, "filled": true, "fill": "white", "stroke": "#ec2227", "strokeWidth": 1.2, "opacity": 1}},
{"transform": [{"filter": "datum.e === 1"}], "mark": {"type": "point", "size": 361, "filled": true, "fill": "#ec2227", "strokeWidth": 0, "opacity": 1}, "encoding": {"shape": {"field": "w", "type": "nominal", "scale": {"domain": [0.05, 0.1, 0.15, 0.2], "range": ["M-0.55,-0.08H0.55V0.08H-0.55Z M-0.08,-0.55H0.08V0.55H-0.08Z", "M0,-1A1,1 0 0,1 0,1Z", "M-1,0A1,1 0 0,1 1,0Z", "M0,0L-0.707,-0.707A1,1 0 0,1 0.707,-0.707Z M0,0L0.707,0.707A1,1 0 0,1 -0.707,0.707Z"]}, "legend": null}}},
{"transform": [{"filter": "datum.e === 1.5"}], "mark": {"type": "point", "shape": "square", "size": 289, "filled": true, "fill": "white", "stroke": "#3b56ad", "strokeWidth": 1.2, "opacity": 1}},
{"transform": [{"filter": "datum.e === 1.5"}], "mark": {"type": "point", "size": 289, "filled": true, "fill": "#3b56ad", "strokeWidth": 0, "opacity": 1}, "encoding": {"shape": {"field": "w", "type": "nominal", "scale": {"domain": [0.05, 0.1, 0.15, 0.2], "range": ["M-0.55,-0.08H0.55V0.08H-0.55Z M-0.08,-0.55H0.08V0.55H-0.08Z", "M1,-1L1,1L-1,1Z", "M-1,-1H1V0H-1Z", "M-1,-1H1L0,0Z M-1,1H1L0,0Z"]}, "legend": null}}},
{"mark": {"type": "text", "align": "right", "baseline": "middle", "dx": 184, "font": "Liberation Serif", "fontSize": 22, "fontWeight": "bold", "color": "#111111"}, "encoding": {"text": {"field": "label"}}},
{"transform": [{"filter": "datum.w === 0.05"}], "mark": {"type": "text", "align": "right", "baseline": "middle", "dx": 188, "dy": -35, "font": "Liberation Serif", "fontSize": 22, "fontWeight": "bold", "color": "#111111"}, "encoding": {"text": {"field": "group"}}}
]
},
{
"width": 318, "height": 130,
"view": {"stroke": null},
"data": {"name": "leg"},
"transform": [{"filter": "datum.e === 2"}],
"encoding": {
"x": {"field": "e", "type": "quantitative", "scale": {"domain": [2, 2.5], "range": [118, 369]}, "axis": null},
"y": {"field": "w", "type": "quantitative", "scale": {"domain": [0, 0.2], "range": [19, 176]}, "axis": null}
},
"resolve": {"scale": {"shape": "independent"}},
"layer": [
{"mark": {"type": "rule", "strokeWidth": 1.5, "xOffset": -38, "x2Offset": 38}, "encoding": {"x2": {"field": "e"}, "color": {"field": "e", "type": "nominal", "scale": {"domain": [1, 1.5, 2], "range": ["#ec2227", "#3b56ad", "#111111"]}, "legend": null}, "strokeDash": {"field": "e", "type": "nominal", "scale": {"domain": [1, 1.5, 2], "range": [[1, 0], [6, 4], [1, 0]]}, "legend": null}}},
{"mark": {"type": "point", "shape": "diamond", "size": 600, "filled": true, "fill": "white", "stroke": "#111111", "strokeWidth": 1.2, "opacity": 1}},
{"mark": {"type": "point", "size": 600, "filled": true, "fill": "#111111", "strokeWidth": 0, "opacity": 1}, "encoding": {"shape": {"field": "w", "type": "nominal", "scale": {"domain": [0.05, 0.1, 0.15, 0.2], "range": ["M-0.5,-0.06H0.5V0.06H-0.5Z M-0.06,-0.5H0.06V0.5H-0.06Z", "M0,-1L1,0L0,1Z", "M-1,0L0,-1L1,0Z", "M0,0L0,-1L1,0Z M0,0L-1,0L0,1Z"]}, "legend": null}}},
{"mark": {"type": "text", "align": "right", "baseline": "middle", "dx": 188, "font": "Liberation Serif", "fontSize": 22, "fontWeight": "bold", "color": "#111111"}, "encoding": {"text": {"field": "label"}}},
{"transform": [{"filter": "datum.w === 0.05"}], "mark": {"type": "text", "align": "right", "baseline": "middle", "dx": 196, "dy": -35, "font": "Liberation Serif", "fontSize": 22, "fontWeight": "bold", "color": "#111111"}, "encoding": {"text": {"field": "group"}}}
]
},
{
"width": 318, "height": 327,
"data": {"name": "pts"},
"transform": [{"filter": "datum.p === 'TYPE A, +x'"}],
"encoding": {
"x": {"field": "Re", "type": "quantitative", "scale": {"domain": [0, 2140], "nice": false}, "axis": {"values": [0,250,500,750,1000,1250,1500,1750,2000], "format": "d", "labelExpr": "datum.value % 500 === 0 ? datum.label : ''", "title": "Re"}},
"y": {"field": "f", "type": "quantitative", "scale": {"domain": [0, 40], "nice": false}, "axis": {"values": [0,2.5,5,7.5,10,12.5,15,17.5,20,22.5,25,27.5,30,32.5,35,37.5,40], "labelExpr": "datum.value % 5 === 0 ? datum.label : ''", "title": "f/f₀"}}
},
"resolve": {"scale": {"shape": "independent"}},
"layer": [
{"mark": {"type": "line", "strokeWidth": 1.2}, "encoding": {"detail": {"field": "w", "type": "nominal"}, "color": {"field": "e", "type": "nominal", "scale": {"domain": [1, 1.5, 2], "range": ["#ec2227", "#3b56ad", "#111111"]}, "legend": null}, "strokeDash": {"field": "e", "type": "nominal", "scale": {"domain": [1, 1.5, 2], "range": [[1, 0], [6, 4], [1, 0]]}, "legend": null}}},
{"transform": [{"filter": "datum.e === 1"}], "mark": {"type": "point", "shape": "circle", "size": 150, "filled": true, "fill": "white", "stroke": "#ec2227", "strokeWidth": 1, "opacity": 1}},
{"transform": [{"filter": "datum.e === 1"}], "mark": {"type": "point", "size": 150, "filled": true, "fill": "#ec2227", "strokeWidth": 0, "opacity": 1}, "encoding": {"shape": {"field": "w", "type": "nominal", "scale": {"domain": [0.05, 0.1, 0.15, 0.2], "range": ["M-0.6,-0.1H0.6V0.1H-0.6Z M-0.1,-0.6H0.1V0.6H-0.1Z", "M0,-1A1,1 0 0,1 0,1Z", "M-1,0A1,1 0 0,1 1,0Z", "M0,0L-0.707,-0.707A1,1 0 0,1 0.707,-0.707Z M0,0L0.707,0.707A1,1 0 0,1 -0.707,0.707Z"]}, "legend": null}}},
{"transform": [{"filter": "datum.e === 1.5"}], "mark": {"type": "point", "shape": "square", "size": 110, "filled": true, "fill": "white", "stroke": "#3b56ad", "strokeWidth": 1, "opacity": 1}},
{"transform": [{"filter": "datum.e === 1.5"}], "mark": {"type": "point", "size": 110, "filled": true, "fill": "#3b56ad", "strokeWidth": 0, "opacity": 1}, "encoding": {"shape": {"field": "w", "type": "nominal", "scale": {"domain": [0.05, 0.1, 0.15, 0.2], "range": ["M-0.6,-0.1H0.6V0.1H-0.6Z M-0.1,-0.6H0.1V0.6H-0.1Z", "M1,-1L1,1L-1,1Z", "M-1,-1H1V0H-1Z", "M-1,-1H1L0,0Z M-1,1H1L0,0Z"]}, "legend": null}}},
{"transform": [{"filter": "datum.e === 2"}], "mark": {"type": "point", "shape": "diamond", "size": 210, "filled": true, "fill": "white", "stroke": "#111111", "strokeWidth": 1, "opacity": 1}},
{"transform": [{"filter": "datum.e === 2"}], "mark": {"type": "point", "size": 210, "filled": true, "fill": "#111111", "strokeWidth": 0, "opacity": 1}, "encoding": {"shape": {"field": "w", "type": "nominal", "scale": {"domain": [0.05, 0.1, 0.15, 0.2], "range": ["M-0.55,-0.08H0.55V0.08H-0.55Z M-0.08,-0.55H0.08V0.55H-0.08Z", "M0,-1L1,0L0,1Z", "M-1,0L0,-1L1,0Z", "M0,0L0,-1L1,0Z M0,0L-1,0L0,1Z"]}, "legend": null}}},
{"transform": [{"filter": "datum.Re === 100 && datum.e === 1 && datum.w === 0.05"}], "mark": {"type": "text", "align": "left", "baseline": "middle", "font": "Liberation Serif", "fontSize": 20, "fontWeight": "bold", "color": "#111111"}, "encoding": {"x": {"datum": 155}, "y": {"datum": 36}, "text": {"field": "p"}}}
]
},
{
"width": 318, "height": 327,
"data": {"name": "pts"},
"transform": [{"filter": "datum.p === 'TYPE A, -x'"}],
"encoding": {
"x": {"field": "Re", "type": "quantitative", "scale": {"domain": [0, 2140], "nice": false}, "axis": {"values": [0,250,500,750,1000,1250,1500,1750,2000], "format": "d", "labelExpr": "datum.value % 500 === 0 ? datum.label : ''", "title": "Re"}},
"y": {"field": "f", "type": "quantitative", "scale": {"domain": [0, 35], "nice": false}, "axis": {"values": [0,2.5,5,7.5,10,12.5,15,17.5,20,22.5,25,27.5,30,32.5,35], "labelExpr": "datum.value % 5 === 0 ? datum.label : ''", "title": "f/f₀"}}
},
"resolve": {"scale": {"shape": "independent"}},
"layer": [
{"mark": {"type": "line", "strokeWidth": 1.2}, "encoding": {"detail": {"field": "w", "type": "nominal"}, "color": {"field": "e", "type": "nominal", "scale": {"domain": [1, 1.5, 2], "range": ["#ec2227", "#3b56ad", "#111111"]}, "legend": null}, "strokeDash": {"field": "e", "type": "nominal", "scale": {"domain": [1, 1.5, 2], "range": [[1, 0], [6, 4], [1, 0]]}, "legend": null}}},
{"transform": [{"filter": "datum.e === 1"}], "mark": {"type": "point", "shape": "circle", "size": 150, "filled": true, "fill": "white", "stroke": "#ec2227", "strokeWidth": 1, "opacity": 1}},
{"transform": [{"filter": "datum.e === 1"}], "mark": {"type": "point", "size": 150, "filled": true, "fill": "#ec2227", "strokeWidth": 0, "opacity": 1}, "encoding": {"shape": {"field": "w", "type": "nominal", "scale": {"domain": [0.05, 0.1, 0.15, 0.2], "range": ["M-0.6,-0.1H0.6V0.1H-0.6Z M-0.1,-0.6H0.1V0.6H-0.1Z", "M0,-1A1,1 0 0,1 0,1Z", "M-1,0A1,1 0 0,1 1,0Z", "M0,0L-0.707,-0.707A1,1 0 0,1 0.707,-0.707Z M0,0L0.707,0.707A1,1 0 0,1 -0.707,0.707Z"]}, "legend": null}}},
{"transform": [{"filter": "datum.e === 1.5"}], "mark": {"type": "point", "shape": "square", "size": 110, "filled": true, "fill": "white", "stroke": "#3b56ad", "strokeWidth": 1, "opacity": 1}},
{"transform": [{"filter": "datum.e === 1.5"}], "mark": {"type": "point", "size": 110, "filled": true, "fill": "#3b56ad", "strokeWidth": 0, "opacity": 1}, "encoding": {"shape": {"field": "w", "type": "nominal", "scale": {"domain": [0.05, 0.1, 0.15, 0.2], "range": ["M-0.6,-0.1H0.6V0.1H-0.6Z M-0.1,-0.6H0.1V0.6H-0.1Z", "M1,-1L1,1L-1,1Z", "M-1,-1H1V0H-1Z", "M-1,-1H1L0,0Z M-1,1H1L0,0Z"]}, "legend": null}}},
{"transform": [{"filter": "datum.e === 2"}], "mark": {"type": "point", "shape": "diamond", "size": 210, "filled": true, "fill": "white", "stroke": "#111111", "strokeWidth": 1, "opacity": 1}},
{"transform": [{"filter": "datum.e === 2"}], "mark": {"type": "point", "size": 210, "filled": true, "fill": "#111111", "strokeWidth": 0, "opacity": 1}, "encoding": {"shape": {"field": "w", "type": "nominal", "scale": {"domain": [0.05, 0.1, 0.15, 0.2], "range": ["M-0.55,-0.08H0.55V0.08H-0.55Z M-0.08,-0.55H0.08V0.55H-0.08Z", "M0,-1L1,0L0,1Z", "M-1,0L0,-1L1,0Z", "M0,0L0,-1L1,0Z M0,0L-1,0L0,1Z"]}, "legend": null}}},
{"transform": [{"filter": "datum.Re === 100 && datum.e === 1 && datum.w === 0.05"}], "mark": {"type": "text", "align": "left", "baseline": "middle", "font": "Liberation Serif", "fontSize": 20, "fontWeight": "bold", "color": "#111111"}, "encoding": {"x": {"datum": 155}, "y": {"datum": 31.5}, "text": {"field": "p"}}}
]
},
{
"width": 318, "height": 327,
"data": {"name": "pts"},
"transform": [{"filter": "datum.p === 'TYPE B, +x'"}],
"encoding": {
"x": {"field": "Re", "type": "quantitative", "scale": {"domain": [0, 2140], "nice": false}, "axis": {"values": [0,250,500,750,1000,1250,1500,1750,2000], "format": "d", "labelExpr": "datum.value % 500 === 0 ? datum.label : ''", "title": "Re"}},
"y": {"field": "f", "type": "quantitative", "scale": {"domain": [0, 35], "nice": false}, "axis": {"values": [0,2.5,5,7.5,10,12.5,15,17.5,20,22.5,25,27.5,30,32.5,35], "labelExpr": "datum.value % 5 === 0 ? datum.label : ''", "title": "f/f₀"}}
},
"resolve": {"scale": {"shape": "independent"}},
"layer": [
{"mark": {"type": "line", "strokeWidth": 1.2}, "encoding": {"detail": {"field": "w", "type": "nominal"}, "color": {"field": "e", "type": "nominal", "scale": {"domain": [1, 1.5, 2], "range": ["#ec2227", "#3b56ad", "#111111"]}, "legend": null}, "strokeDash": {"field": "e", "type": "nominal", "scale": {"domain": [1, 1.5, 2], "range": [[1, 0], [6, 4], [1, 0]]}, "legend": null}}},
{"transform": [{"filter": "datum.e === 1"}], "mark": {"type": "point", "shape": "circle", "size": 150, "filled": true, "fill": "white", "stroke": "#ec2227", "strokeWidth": 1, "opacity": 1}},
{"transform": [{"filter": "datum.e === 1"}], "mark": {"type": "point", "size": 150, "filled": true, "fill": "#ec2227", "strokeWidth": 0, "opacity": 1}, "encoding": {"shape": {"field": "w", "type": "nominal", "scale": {"domain": [0.05, 0.1, 0.15, 0.2], "range": ["M-0.6,-0.1H0.6V0.1H-0.6Z M-0.1,-0.6H0.1V0.6H-0.1Z", "M0,-1A1,1 0 0,1 0,1Z", "M-1,0A1,1 0 0,1 1,0Z", "M0,0L-0.707,-0.707A1,1 0 0,1 0.707,-0.707Z M0,0L0.707,0.707A1,1 0 0,1 -0.707,0.707Z"]}, "legend": null}}},
{"transform": [{"filter": "datum.e === 1.5"}], "mark": {"type": "point", "shape": "square", "size": 110, "filled": true, "fill": "white", "stroke": "#3b56ad", "strokeWidth": 1, "opacity": 1}},
{"transform": [{"filter": "datum.e === 1.5"}], "mark": {"type": "point", "size": 110, "filled": true, "fill": "#3b56ad", "strokeWidth": 0, "opacity": 1}, "encoding": {"shape": {"field": "w", "type": "nominal", "scale": {"domain": [0.05, 0.1, 0.15, 0.2], "range": ["M-0.6,-0.1H0.6V0.1H-0.6Z M-0.1,-0.6H0.1V0.6H-0.1Z", "M1,-1L1,1L-1,1Z", "M-1,-1H1V0H-1Z", "M-1,-1H1L0,0Z M-1,1H1L0,0Z"]}, "legend": null}}},
{"transform": [{"filter": "datum.e === 2"}], "mark": {"type": "point", "shape": "diamond", "size": 210, "filled": true, "fill": "white", "stroke": "#111111", "strokeWidth": 1, "opacity": 1}},
{"transform": [{"filter": "datum.e === 2"}], "mark": {"type": "point", "size": 210, "filled": true, "fill": "#111111", "strokeWidth": 0, "opacity": 1}, "encoding": {"shape": {"field": "w", "type": "nominal", "scale": {"domain": [0.05, 0.1, 0.15, 0.2], "range": ["M-0.55,-0.08H0.55V0.08H-0.55Z M-0.08,-0.55H0.08V0.55H-0.08Z", "M0,-1L1,0L0,1Z", "M-1,0L0,-1L1,0Z", "M0,0L0,-1L1,0Z M0,0L-1,0L0,1Z"]}, "legend": null}}},
{"transform": [{"filter": "datum.Re === 100 && datum.e === 1 && datum.w === 0.05"}], "mark": {"type": "text", "align": "left", "baseline": "middle", "font": "Liberation Serif", "fontSize": 20, "fontWeight": "bold", "color": "#111111"}, "encoding": {"x": {"datum": 155}, "y": {"datum": 31.5}, "text": {"field": "p"}}}
]
},
{
"width": 318, "height": 327,
"data": {"name": "pts"},
"transform": [{"filter": "datum.p === 'TYPE B, -x'"}],
"encoding": {
"x": {"field": "Re", "type": "quantitative", "scale": {"domain": [0, 2140], "nice": false}, "axis": {"values": [0,250,500,750,1000,1250,1500,1750,2000], "format": "d", "labelExpr": "datum.value % 500 === 0 ? datum.label : ''", "title": "Re"}},
"y": {"field": "f", "type": "quantitative", "scale": {"domain": [0, 40], "nice": false}, "axis": {"values": [0,2.5,5,7.5,10,12.5,15,17.5,20,22.5,25,27.5,30,32.5,35,37.5,40], "labelExpr": "datum.value % 5 === 0 ? datum.label : ''", "title": "f/f₀"}}
},
"resolve": {"scale": {"shape": "independent"}},
"layer": [
{"mark": {"type": "line", "strokeWidth": 1.2}, "encoding": {"detail": {"field": "w", "type": "nominal"}, "color": {"field": "e", "type": "nominal", "scale": {"domain": [1, 1.5, 2], "range": ["#ec2227", "#3b56ad", "#111111"]}, "legend": null}, "strokeDash": {"field": "e", "type": "nominal", "scale": {"domain": [1, 1.5, 2], "range": [[1, 0], [6, 4], [1, 0]]}, "legend": null}}},
{"transform": [{"filter": "datum.e === 1"}], "mark": {"type": "point", "shape": "circle", "size": 150, "filled": true, "fill": "white", "stroke": "#ec2227", "strokeWidth": 1, "opacity": 1}},
{"transform": [{"filter": "datum.e === 1"}], "mark": {"type": "point", "size": 150, "filled": true, "fill": "#ec2227", "strokeWidth": 0, "opacity": 1}, "encoding": {"shape": {"field": "w", "type": "nominal", "scale": {"domain": [0.05, 0.1, 0.15, 0.2], "range": ["M-0.6,-0.1H0.6V0.1H-0.6Z M-0.1,-0.6H0.1V0.6H-0.1Z", "M0,-1A1,1 0 0,1 0,1Z", "M-1,0A1,1 0 0,1 1,0Z", "M0,0L-0.707,-0.707A1,1 0 0,1 0.707,-0.707Z M0,0L0.707,0.707A1,1 0 0,1 -0.707,0.707Z"]}, "legend": null}}},
{"transform": [{"filter": "datum.e === 1.5"}], "mark": {"type": "point", "shape": "square", "size": 110, "filled": true, "fill": "white", "stroke": "#3b56ad", "strokeWidth": 1, "opacity": 1}},
{"transform": [{"filter": "datum.e === 1.5"}], "mark": {"type": "point", "size": 110, "filled": true, "fill": "#3b56ad", "strokeWidth": 0, "opacity": 1}, "encoding": {"shape": {"field": "w", "type": "nominal", "scale": {"domain": [0.05, 0.1, 0.15, 0.2], "range": ["M-0.6,-0.1H0.6V0.1H-0.6Z M-0.1,-0.6H0.1V0.6H-0.1Z", "M1,-1L1,1L-1,1Z", "M-1,-1H1V0H-1Z", "M-1,-1H1L0,0Z M-1,1H1L0,0Z"]}, "legend": null}}},
{"transform": [{"filter": "datum.e === 2"}], "mark": {"type": "point", "shape": "diamond", "size": 210, "filled": true, "fill": "white", "stroke": "#111111", "strokeWidth": 1, "opacity": 1}},
{"transform": [{"filter": "datum.e === 2"}], "mark": {"type": "point", "size": 210, "filled": true, "fill": "#111111", "strokeWidth": 0, "opacity": 1}, "encoding": {"shape": {"field": "w", "type": "nominal", "scale": {"domain": [0.05, 0.1, 0.15, 0.2], "range": ["M-0.55,-0.08H0.55V0.08H-0.55Z M-0.08,-0.55H0.08V0.55H-0.08Z", "M0,-1L1,0L0,1Z", "M-1,0L0,-1L1,0Z", "M0,0L0,-1L1,0Z M0,0L-1,0L0,1Z"]}, "legend": null}}},
{"transform": [{"filter": "datum.Re === 100 && datum.e === 1 && datum.w === 0.05"}], "mark": {"type": "text", "align": "left", "baseline": "middle", "font": "Liberation Serif", "fontSize": 20, "fontWeight": "bold", "color": "#111111"}, "encoding": {"x": {"datum": 155}, "y": {"datum": 36}, "text": {"field": "p"}}}
]
}
],
"config": {
"font": "Liberation Serif",
"view": {"stroke": "#8c8c8c", "strokeWidth": 1},
"axis": {"grid": false, "domainColor": "#8c8c8c", "tickColor": "#8c8c8c", "tickSize": -4, "labelFont": "Liberation Serif", "labelFontSize": 18, "labelColor": "#111111", "titleFont": "Liberation Serif", "titleFontSize": 24, "titleFontWeight": "bold", "titleColor": "#111111", "labelFlush": false, "labelOverlap": false},
"axisX": {"labelPadding": 16, "titleY": 46, "titleBaseline": "top", "titleFontSize": 22},
"axisY": {"labelPadding": 11, "titleX": -47, "titleBaseline": "alphabetic"}
}
}
